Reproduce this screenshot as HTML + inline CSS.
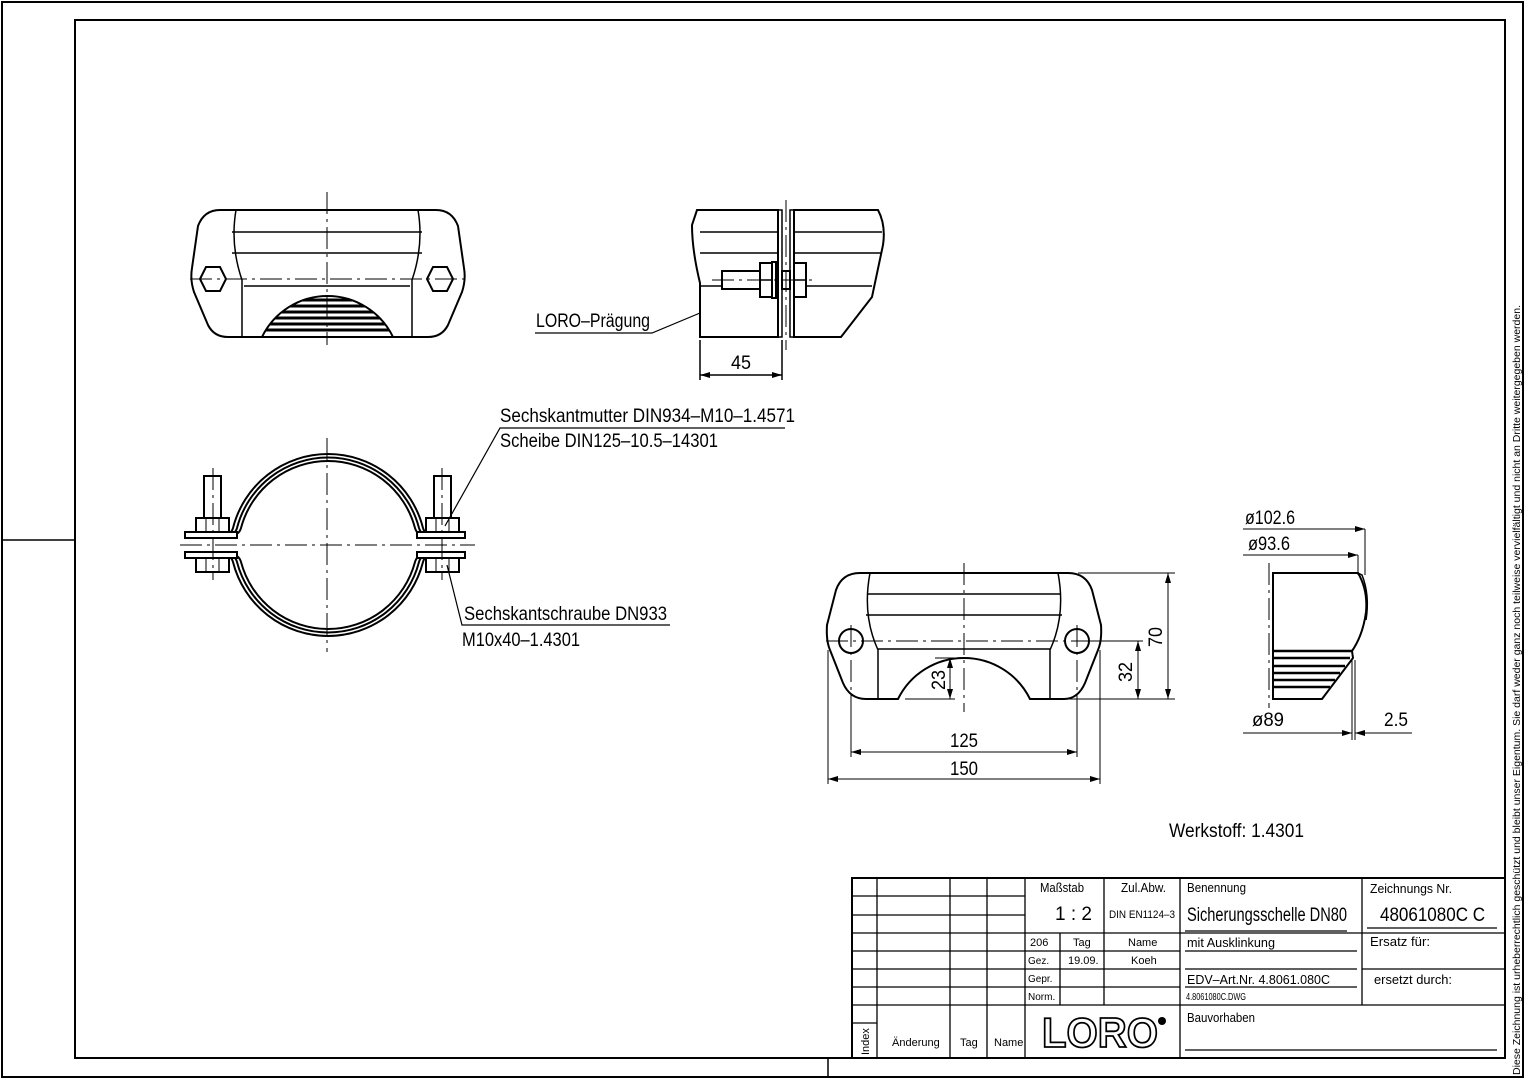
<!DOCTYPE html>
<html><head><meta charset="utf-8"><style>
html,body{margin:0;padding:0;background:#fff}
svg{display:block}
text{font-family:"Liberation Sans",sans-serif;fill:#000}
</style></head><body>
<svg width="1525" height="1080" viewBox="0 0 1525 1080" xmlns="http://www.w3.org/2000/svg">
<defs>
<clipPath id="dome"><path d="M262,337 A72.8,72.8 0 0 1 393,337 Z"/></clipPath>
</defs>
<g fill="none" stroke="#000" stroke-width="1.5">
<!-- frames -->
<rect x="2" y="2" width="1521" height="1075" stroke-width="2"/>
<rect x="75" y="20" width="1430" height="1038" stroke-width="2"/>
<line x1="2" y1="540" x2="75" y2="540"/>
<line x1="828" y1="1058" x2="828" y2="1077"/>

<!-- TOP-LEFT VIEW -->
<path d="M220,210 H436 Q452,210 458,226 L464,268 Q466,280 462,292 L448,325 Q442,337 428,337 H228 Q214,337 208,325 L194,292 Q190,280 192,268 L198,226 Q204,210 220,210 Z" stroke-width="2"/>
<path d="M236,210 Q230,245 242,280 V337 M418,210 Q424,245 412,280 V337"/>
<line x1="232" y1="232" x2="422" y2="232"/><line x1="232" y1="253" x2="422" y2="253"/>
<line x1="244" y1="286" x2="410" y2="286"/>
<path d="M262,337 A72.8,72.8 0 0 1 393,337 Z" stroke-width="2"/>
<g stroke-width="3" clip-path="url(#dome)"><line x1="250" y1="300" x2="400" y2="300"/><line x1="250" y1="306" x2="400" y2="306"/><line x1="250" y1="312" x2="400" y2="312"/><line x1="250" y1="318" x2="400" y2="318"/><line x1="250" y1="324" x2="400" y2="324"/><line x1="250" y1="330" x2="400" y2="330"/></g>
<polygon points="200,279 206,267 220,267 226,279 220,291 206,291" stroke-width="2"/>
<polygon points="427,279 433,267 447,267 453,279 447,291 433,291" stroke-width="2"/>
<g stroke-width="1" stroke-dasharray="22,5,3,5"><line x1="190" y1="279" x2="466" y2="279"/><line x1="327" y1="192" x2="327" y2="345"/></g>

<!-- TOP-MIDDLE VIEW -->
<path d="M697,210 H778 V337 H700 V283 Q692,250 692,225 Z M794,210 H878 Q886,225 883,245 L872,297 L841,337 H794 Z" stroke-width="2"/>
<rect x="778" y="210" width="4" height="127"/><rect x="790" y="210" width="4" height="127"/>
<line x1="700" y1="232" x2="778" y2="232"/><line x1="700" y1="253" x2="778" y2="253"/><line x1="700" y1="286" x2="778" y2="286"/>
<line x1="794" y1="232" x2="882" y2="232"/><line x1="794" y1="253" x2="882" y2="253"/><line x1="794" y1="286" x2="872" y2="286"/>
<g stroke-width="2" fill="#fff"><rect x="722" y="271" width="38" height="18"/><rect x="760" y="263" width="12" height="34"/><rect x="772" y="262" width="4" height="36"/><rect x="794" y="263" width="12" height="34"/><rect x="782" y="271" width="8" height="18"/></g>
<line x1="760" y1="280" x2="772" y2="280"/><line x1="794" y1="280" x2="806" y2="280"/>
<g stroke-width="1" stroke-dasharray="22,5,3,5"><line x1="786" y1="200" x2="786" y2="350"/><line x1="712" y1="280" x2="815" y2="280"/></g>
<polyline points="535,333 652,333 700,313" stroke-width="1.2"/>
<line x1="700" y1="340" x2="700" y2="380"/><line x1="782" y1="340" x2="782" y2="380"/>
<line x1="700" y1="375" x2="782" y2="375"/>

<!-- CLAMP -->
<g stroke-width="2">
<path d="M224,535 Q231,535 233,528 A98,98 0 0 1 423,528 Q425,535 432,535"/>
<path d="M228,535 Q235,535 237,528 A94,94 0 0 1 419,528 Q421,535 428,535"/>
<path d="M232,535 Q239,535 241,528 A90,90 0 0 1 415,528 Q417,535 424,535"/>
<path d="M224,555 Q231,555 233,562 A98,98 0 0 0 423,562 Q425,555 432,555"/>
<path d="M228,555 Q235,555 237,562 A94,94 0 0 0 419,562 Q421,555 428,555"/>
<path d="M232,555 Q239,555 241,562 A90,90 0 0 0 415,562 Q417,555 424,555"/>
<rect x="185" y="532" width="52" height="6" fill="#fff"/><rect x="185" y="552" width="52" height="6" fill="#fff"/>
<rect x="417" y="532" width="48" height="6" fill="#fff"/><rect x="417" y="552" width="48" height="6" fill="#fff"/>
<rect x="204" y="476" width="17" height="43" fill="#fff"/><rect x="434" y="476" width="17" height="43" fill="#fff"/>
<rect x="196" y="518" width="33" height="14" fill="#fff"/><rect x="426" y="518" width="33" height="14" fill="#fff"/>
<rect x="196" y="558" width="33" height="14" fill="#fff"/><rect x="426" y="558" width="33" height="14" fill="#fff"/>
</g>
<g stroke-width="1"><line x1="206" y1="518" x2="206" y2="532"/><line x1="219" y1="518" x2="219" y2="532"/><line x1="436" y1="518" x2="436" y2="532"/><line x1="449" y1="518" x2="449" y2="532"/>
<line x1="206" y1="558" x2="206" y2="572"/><line x1="219" y1="558" x2="219" y2="572"/><line x1="436" y1="558" x2="436" y2="572"/><line x1="449" y1="558" x2="449" y2="572"/></g>
<g stroke-width="1" stroke-dasharray="22,5,3,5"><line x1="180" y1="545" x2="475" y2="545"/><line x1="327" y1="438" x2="327" y2="652"/><line x1="213" y1="468" x2="213" y2="580"/><line x1="442" y1="468" x2="442" y2="580"/></g>
<polyline points="785,428 500,428 445,526" stroke-width="1.2"/>
<polyline points="670,625 462,625 447,565" stroke-width="1.2"/>

<!-- BOTTOM-MIDDLE VIEW -->
<path d="M860,573 H1068 Q1086,573 1092,590 L1101,625 Q1102,641 1098,650 L1085,683 Q1078,699 1064,699 H1030 A73.6,73.6 0 0 0 898,699 H866 Q850,699 843,683 L830,650 Q826,641 827,625 L836,590 Q842,573 860,573 Z" stroke-width="2"/>
<path d="M870,573 Q862,615 878,650 V699 M1058,573 Q1066,615 1050,650 V699"/>
<line x1="868" y1="594" x2="1060" y2="594"/><line x1="866" y1="615" x2="1062" y2="615"/><line x1="878" y1="649" x2="1050" y2="649"/>
<circle cx="851" cy="641" r="12" stroke-width="2"/><circle cx="1077" cy="641" r="12" stroke-width="2"/>
<g stroke-width="1" stroke-dasharray="22,5,3,5"><line x1="826" y1="641" x2="1110" y2="641"/><line x1="964" y1="563" x2="964" y2="712"/><line x1="851" y1="625" x2="851" y2="700"/><line x1="1077" y1="625" x2="1077" y2="700"/></g>
<g stroke-width="1">
<line x1="851" y1="700" x2="851" y2="757"/><line x1="1077" y1="700" x2="1077" y2="757"/><line x1="851" y1="752" x2="1077" y2="752"/>
<line x1="828" y1="650" x2="828" y2="784"/><line x1="1100" y1="650" x2="1100" y2="784"/><line x1="828" y1="779" x2="1100" y2="779"/>
<line x1="1078" y1="573" x2="1175" y2="573"/><line x1="1064" y1="699" x2="1175" y2="699"/><line x1="1168" y1="573" x2="1168" y2="699"/>
<line x1="1090" y1="641" x2="1143" y2="641"/><line x1="1138" y1="641" x2="1138" y2="699"/>
<line x1="935" y1="658" x2="955" y2="658"/><line x1="950" y1="658" x2="950" y2="699"/><line x1="905" y1="699" x2="955" y2="699"/>
</g>

<!-- RIGHT VIEW -->
<path d="M1273,573 H1358 Q1368,590 1366,612 Q1363,635 1352,651 L1353,658 L1322,699 H1273 Z" stroke-width="2"/>
<path d="M1358,573 L1362,575 Q1370,595 1366,620"/>
<g stroke-width="2.5"><line x1="1273" y1="651" x2="1352" y2="651"/><line x1="1273" y1="658" x2="1350" y2="658"/><line x1="1273" y1="666" x2="1345" y2="666"/><line x1="1273" y1="673" x2="1340" y2="673"/><line x1="1273" y1="680" x2="1335" y2="680"/><line x1="1273" y1="687" x2="1330" y2="687"/></g>
<line x1="1269" y1="563" x2="1269" y2="708" stroke-width="1" stroke-dasharray="22,5,3,5"/>
<g stroke-width="1">
<line x1="1243" y1="529" x2="1365" y2="529"/><line x1="1365" y1="529" x2="1365" y2="575"/>
<line x1="1243" y1="555" x2="1358" y2="555"/><line x1="1358" y1="555" x2="1358" y2="575"/>
<line x1="1352" y1="660" x2="1352" y2="740"/><line x1="1355" y1="660" x2="1355" y2="740"/>
<line x1="1243" y1="733" x2="1352" y2="733"/><line x1="1355" y1="733" x2="1412" y2="733"/>
</g>
</g>
<!-- arrows -->
<g fill="#000">
<path d="M700,375 l10,-3 v6z M782,375 l-10,-3 v6z"/>
<path d="M851,752 l10,-3 v6z M1077,752 l-10,-3 v6z M828,779 l10,-3 v6z M1100,779 l-10,-3 v6z"/>
<path d="M1168,573 l-3,10 h6z M1168,699 l-3,-10 h6z M1138,641 l-3,10 h6z M1138,699 l-3,-10 h6z M950,658 l-3,10 h6z M950,699 l-3,-10 h6z"/>
<path d="M1365,529 l-10,-3 v6z M1358,555 l-10,-3 v6z M1352,733 l-10,-3 v6z M1355,733 l10,-3 v6z"/>
</g>

<!-- drawing texts -->
<g font-size="19">
<text x="536" y="327" textLength="114" lengthAdjust="spacingAndGlyphs">LORO–Prägung</text>
<text x="731" y="369" textLength="20" lengthAdjust="spacingAndGlyphs">45</text>
<text x="500" y="422" textLength="295" lengthAdjust="spacingAndGlyphs">Sechskantmutter DIN934–M10–1.4571</text>
<text x="500" y="447" textLength="218" lengthAdjust="spacingAndGlyphs">Scheibe DIN125–10.5–14301</text>
<text x="464" y="620" textLength="203" lengthAdjust="spacingAndGlyphs">Sechskantschraube DN933</text>
<text x="462" y="646" textLength="118" lengthAdjust="spacingAndGlyphs">M10x40–1.4301</text>
<text x="950" y="747" textLength="28" lengthAdjust="spacingAndGlyphs">125</text>
<text x="950" y="775" textLength="28" lengthAdjust="spacingAndGlyphs">150</text>
<text transform="translate(1162,647) rotate(-90)" textLength="20" lengthAdjust="spacingAndGlyphs">70</text>
<text transform="translate(1132,682) rotate(-90)" textLength="20" lengthAdjust="spacingAndGlyphs">32</text>
<text transform="translate(945,690) rotate(-90)" textLength="20" lengthAdjust="spacingAndGlyphs">23</text>
<text x="1245" y="524" textLength="50" lengthAdjust="spacingAndGlyphs">ø102.6</text>
<text x="1248" y="550" textLength="42" lengthAdjust="spacingAndGlyphs">ø93.6</text>
<text x="1252" y="726" textLength="32" lengthAdjust="spacingAndGlyphs">ø89</text>
<text x="1384" y="726" textLength="24" lengthAdjust="spacingAndGlyphs">2.5</text>
<text x="1169" y="837" textLength="135" lengthAdjust="spacingAndGlyphs">Werkstoff:  1.4301</text>
</g>

<!-- TITLE BLOCK -->
<g fill="none" stroke="#000" stroke-width="1.3">
<rect x="852" y="878" width="653" height="180" stroke-width="2"/>
<path d="M877,878 V1058 M950,878 V1058 M987,878 V1058 M1025,878 V1058 M1180,878 V1058 M1362,878 V1005"/>
<path d="M1104,878 V933 M1060,933 V1005 M1104,933 V1005"/>
<path d="M852,896 H1025 M852,915 H1025 M852,933 H1505 M852,951 H1180 M852,969 H1180 M852,987 H1180 M852,1005 H1505 M852,1023 H877 M1362,969 H1505"/>
<path d="M1185,931 H1347 M1367,928 H1497 M1185,951 H1357 M1185,969 H1357 M1185,987 H1357 M1185,1050 H1497"/>
</g>
<g font-size="13">
<text x="1040" y="892" textLength="44" lengthAdjust="spacingAndGlyphs">Maßstab</text>
<text x="1121" y="892" textLength="45" lengthAdjust="spacingAndGlyphs">Zul.Abw.</text>
<text x="1187" y="892" textLength="59" lengthAdjust="spacingAndGlyphs">Benennung</text>
<text x="1370" y="893" textLength="82" lengthAdjust="spacingAndGlyphs">Zeichnungs Nr.</text>
<text x="1187" y="947" textLength="88" lengthAdjust="spacingAndGlyphs">mit Ausklinkung</text>
<text x="1370" y="946" textLength="60" lengthAdjust="spacingAndGlyphs">Ersatz für:</text>
<text x="1187" y="984" textLength="143" lengthAdjust="spacingAndGlyphs">EDV–Art.Nr. 4.8061.080C</text>
<text x="1374" y="984" textLength="78" lengthAdjust="spacingAndGlyphs">ersetzt durch:</text>
<text x="1187" y="1022" textLength="68" lengthAdjust="spacingAndGlyphs">Bauvorhaben</text>
</g>
<g font-size="11">
<text x="1109" y="918" textLength="66" lengthAdjust="spacingAndGlyphs">DIN EN1124–3</text>
<text x="1030" y="946">206</text>
<text x="1073" y="946">Tag</text>
<text x="1128" y="946">Name</text>
<text x="1028" y="964" font-size="10">Gez.</text>
<text x="1068" y="964">19.09.</text>
<text x="1131" y="964">Koeh</text>
<text x="1028" y="982" font-size="10">Gepr.</text>
<text x="1028" y="1000" font-size="10">Norm.</text>
<text x="1186" y="1000" font-size="10" textLength="60" lengthAdjust="spacingAndGlyphs">4.8061080C.DWG</text>
<text x="892" y="1046">Änderung</text>
<text x="960" y="1046">Tag</text>
<text x="994" y="1046">Name</text>
<text transform="translate(869,1055) rotate(-90)">Index</text>
</g>
<g font-size="19">
<text x="1055" y="920">1 : 2</text>
<text x="1187" y="921" textLength="160" lengthAdjust="spacingAndGlyphs">Sicherungsschelle DN80</text>
<text x="1380" y="921" textLength="105" lengthAdjust="spacingAndGlyphs">48061080C  C</text>
</g>
<text x="1042" y="1047" font-size="42" font-weight="bold" textLength="116" lengthAdjust="spacingAndGlyphs" style="fill:#fff;stroke:#000;stroke-width:1.8">LORO</text>
<circle cx="1162" cy="1021" r="4" fill="#000"/>
<text transform="translate(1520,1075) rotate(-90)" font-size="10" textLength="770" lengthAdjust="spacingAndGlyphs">Diese Zeichnung ist urheberrechtlich geschützt und bleibt unser Eigentum. Sie darf weder ganz noch teilweise vervielfältigt und nicht an Dritte weitergegeben werden.</text>
</svg>
</body></html>
